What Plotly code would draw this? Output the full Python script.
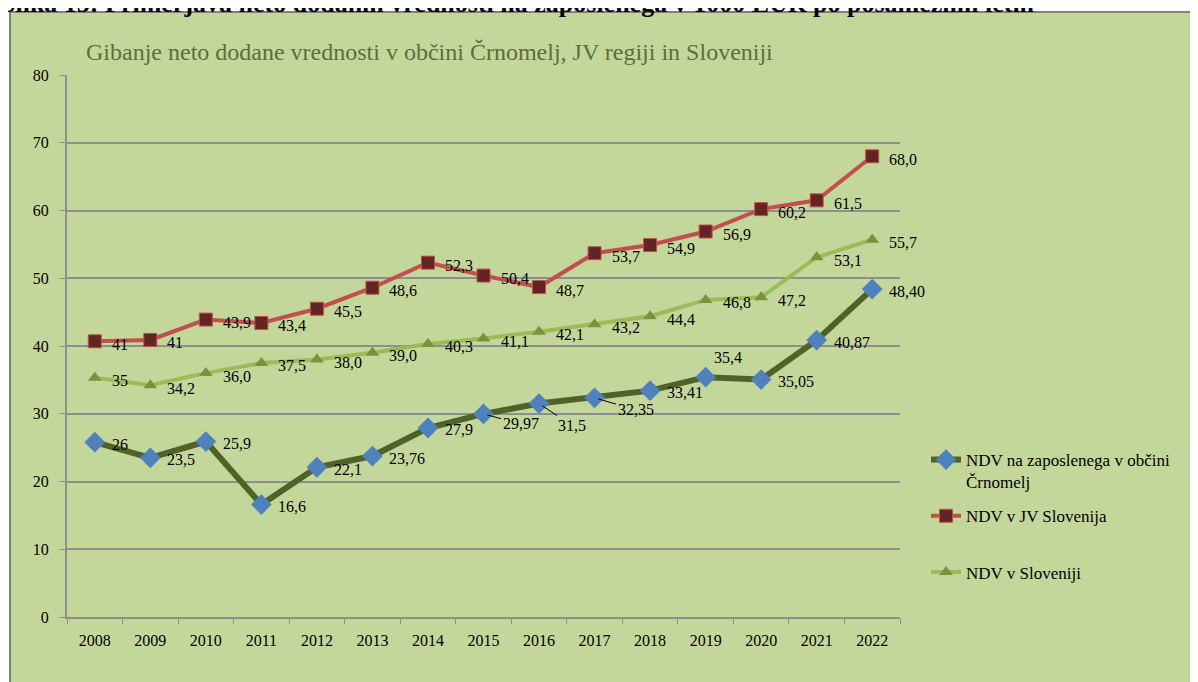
import plotly.graph_objects as go

years = ["2008", "2009", "2010", "2011", "2012", "2013", "2014", "2015",
         "2016", "2017", "2018", "2019", "2020", "2021", "2022"]

crn_vals = [25.8, 23.5, 25.9, 16.6, 22.1, 23.76, 27.9, 29.97, 31.5, 32.35, 33.41, 35.4, 35.05, 40.87, 48.40]
crn_labels = ["26", "23,5", "25,9", "16,6", "22,1", "23,76", "27,9", "29,97", "31,5", "32,35",
              "33,41", "35,4", "35,05", "40,87", "48,40"]

jv_vals = [40.7, 40.9, 43.9, 43.4, 45.5, 48.6, 52.3, 50.4, 48.7, 53.7, 54.9, 56.9, 60.2, 61.5, 68.0]
jv_labels = ["41", "41", "43,9", "43,4", "45,5", "48,6", "52,3", "50,4", "48,7", "53,7",
             "54,9", "56,9", "60,2", "61,5", "68,0"]

slo_vals = [35.3, 34.2, 36.0, 37.5, 38.0, 39.0, 40.3, 41.1, 42.1, 43.2, 44.4, 46.8, 47.2, 53.1, 55.7]
slo_labels = ["35", "34,2", "36,0", "37,5", "38,0", "39,0", "40,3", "41,1", "42,1", "43,2",
              "44,4", "46,8", "47,2", "53,1", "55,7"]

series_names = ["NDV na zaposlenega v občini<br>Črnomelj", "NDV v JV Slovenija<br> ", "NDV v Sloveniji<br> "]
chart_title = "Gibanje neto dodane vrednosti v občini Črnomelj, JV regiji in Sloveniji"
fig_caption = "Slika 15: Primerjava neto dodanih vrednosti na zaposlenega v 1000 EUR po posameznih letih"

# labels drawn with leader lines (indices into years) -> pixel offsets of label
leader_idx = {7: (37, 10), 8: (33, 22), 9: (41, 12)}

FONT = "Liberation Serif"
BG = "#C4D79B"
GRID = "#8E8E8E"
LBL = dict(family=FONT, size=16, color="black")

fig = go.Figure()

fig.add_trace(go.Scatter(
    x=years, y=crn_vals, name=series_names[0], legendgroup="a", mode="lines+markers",
    line=dict(color="#4F6228", width=6),
    marker=dict(symbol="diamond", size=16, color="#4F81BD", line=dict(width=0)),
))
fig.add_trace(go.Scatter(
    x=years, y=jv_vals, name=series_names[1], legendgroup="b", mode="lines+markers",
    line=dict(color="#C0504D", width=4),
    marker=dict(symbol="square", size=13, color="#632523", line=dict(color="#C0504D", width=1)),
))
fig.add_trace(go.Scatter(
    x=years, y=slo_vals, name=series_names[2], legendgroup="c", mode="lines+markers",
    line=dict(color="#9BBB59", width=4),
    marker=dict(symbol="triangle-up", size=12, color="#77933C", line=dict(width=0)),
))

# data labels (x given as category index so that "2008" is not read as a number)
for key, vals, labels, dy in (("jv", jv_vals, jv_labels, -3), ("slo", slo_vals, slo_labels, -3),
                              ("crn", crn_vals, crn_labels, -2)):
    for i, (v, t) in enumerate(zip(vals, labels)):
        if key == "crn" and i in leader_idx:
            ax, ay = leader_idx[i]
            fig.add_annotation(x=i, y=v, text=t, showarrow=True, arrowhead=0,
                               arrowwidth=1, arrowcolor="black", ax=ax, ay=ay,
                               font=LBL, standoff=4)
            continue
        xs, ys = 15, dy
        if key == "crn" and i == 11:
            xs, ys = 6, 20
        fig.add_annotation(x=i, y=v, text=t, showarrow=False, xanchor="left",
                           yanchor="middle", xshift=xs, yshift=ys, font=LBL)

# chart title
fig.add_annotation(text=chart_title, xref="paper", yref="paper", x=(84 - 67) / 833, y=(617 - 52) / 542,
                   xanchor="left", yanchor="middle", showarrow=False,
                   font=dict(family=FONT, size=24, color="#5A6F3A"))
# clipped caption at top
fig.add_annotation(text="<b>" + fig_caption + "</b>", xref="paper", yref="paper",
                   x=(-1 - 67) / 833, y=(617 - 3) / 542, xanchor="left", yanchor="middle",
                   showarrow=False, font=dict(family=FONT, size=26, color="black"))

# green frame
fig.add_shape(type="rect", xref="paper", yref="paper", layer="below",
              x0=(10 - 67) / 833, x1=1.6, y0=-0.5, y1=(617 - 12) / 542,
              fillcolor=BG, line=dict(color="#7F7F7F", width=2))

fig.update_layout(
    width=1198, height=682,
    margin=dict(l=59, r=306, t=67, b=73),
    paper_bgcolor="white", plot_bgcolor="rgba(0,0,0,0)",
    font=dict(family=FONT, size=16, color="black"),
    showlegend=True,
    legend=dict(x=(926 - 67) / 833, y=(617 - 442) / 542, xanchor="left", yanchor="top",
                bgcolor="rgba(0,0,0,0)", valign="top", tracegroupgap=9,
                font=dict(family=FONT, size=17, color="black")),
)
fig.update_xaxes(type="category", range=[-0.5, 14.5], showgrid=False,
                 showline=True, linecolor=GRID, linewidth=2,
                 ticks="outside", tickson="boundaries", ticklen=5, tickcolor=GRID,
                 tickfont=dict(family=FONT, size=16), ticklabelstandoff=8)
fig.update_yaxes(range=[0, 80], dtick=10, showgrid=True, gridcolor=GRID, gridwidth=2,
                 showline=True, linecolor=GRID, linewidth=2, zeroline=False,
                 ticks="outside", ticklen=5, tickcolor=GRID,
                 tickfont=dict(family=FONT, size=16), ticklabelstandoff=8)

fig.write_html("out.html")
